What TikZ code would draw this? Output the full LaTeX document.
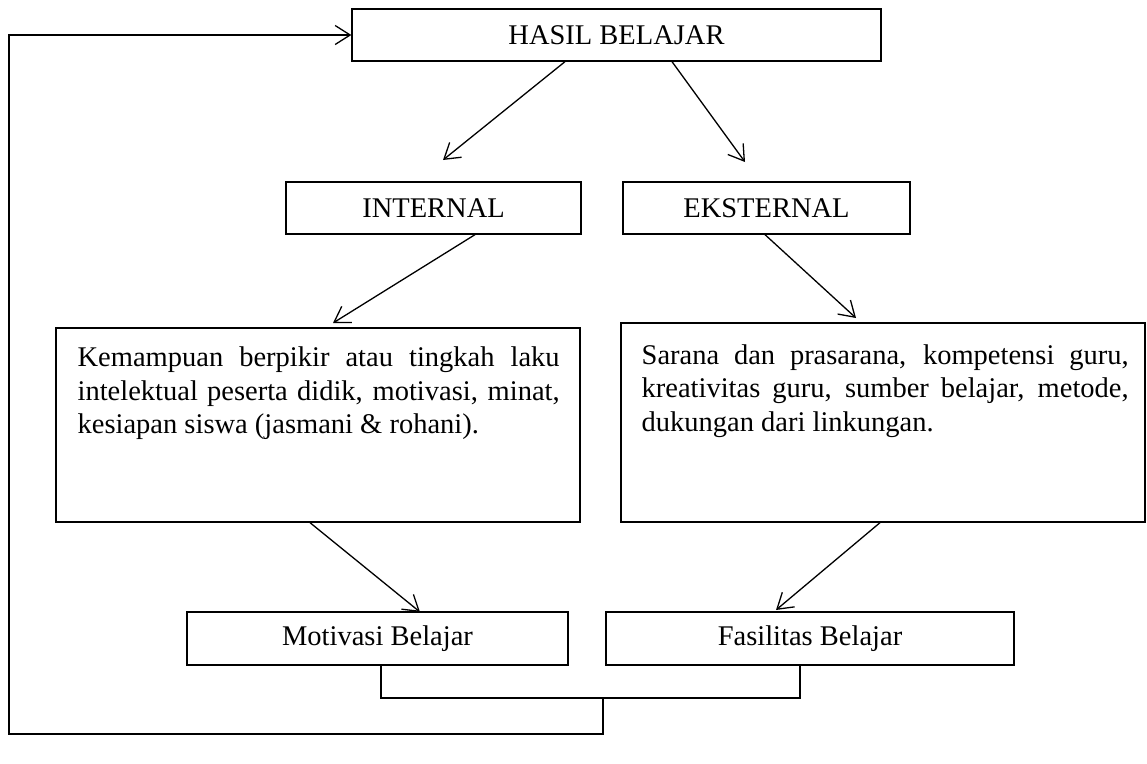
\documentclass[tikz,border=0pt]{standalone}
\usepackage{fontspec}
\setmainfont{Liberation Serif}
\usetikzlibrary{arrows.meta}
\begin{document}
\begin{tikzpicture}[x=1pt,y=-1pt,
  line width=1.3pt,
  every node/.style={font=\fontsize{28.5}{33.5}\selectfont},
  box/.style={draw,line width=1.3pt,inner sep=0pt,minimum width=#1,minimum height=52pt},
  bigbox/.style={draw,line width=1.3pt,inner sep=0pt},
  para/.style={inner sep=0pt,anchor=north west,text width=#1,align=justify},
  arr/.style={-{Straight Barb[length=15pt,width=19pt]},line join=miter}]
\useasboundingbox (0,0) rectangle (1147,763);

\node[box=529pt] (hasil) at (616.5,35) {HASIL BELAJAR};
\node[box=295pt] (internal) at (433.5,208) {INTERNAL};
\node[box=287pt] (eksternal) at (766.5,208) {EKSTERNAL};
\node[bigbox,minimum width=524pt,minimum height=194pt] (kiri) at (318,425) {};
\node[bigbox,minimum width=524pt,minimum height=199pt] (kanan) at (883,422.5) {};
\node[para=482pt] (tkiri) at (77,346.5) {\hyphenpenalty=10000 Kemampuan berpikir atau tingkah laku\linebreak intelektual peserta didik, motivasi, minat,\linebreak kesiapan siswa (jasmani \& rohani).};
\node[para=487pt] (tkanan) at (641,344) {\hyphenpenalty=10000 Sarana dan prasarana, kompetensi guru,\linebreak kreativitas guru, sumber belajar, metode,\linebreak dukungan dari linkungan.};
\node[box=381pt,minimum height=53pt] (motivasi) at (377.5,638.5) {Motivasi Belajar};
\node[box=408pt,minimum height=53pt] (fasilitas) at (810,638.5) {Fasilitas Belajar};

\coordinate (e1) at (443,160);
\coordinate (e2) at (745,162);
\coordinate (e3) at (333,323);
\coordinate (e4) at (856,318);
\coordinate (e5) at (420,612);
\coordinate (e6) at (776,610);

\draw[arr] ([xshift=-51.5pt]hasil.south) -- (e1);
\draw[arr] ([xshift=55.5pt]hasil.south) -- (e2);
\draw[arr] ([xshift=41.5pt]internal.south) -- (e3);
\draw[arr] ([xshift=-1.5pt]eksternal.south) -- (e4);
\draw[arr] ([xshift=-8pt]kiri.south) -- (e5);
\draw[arr] ([xshift=-3pt]kanan.south) -- (e6);

\coordinate (j) at (603,698);
\coordinate (c1) at (9,734);
\draw ([xshift=3.5pt]motivasi.south) |- (j) -| ([xshift=-10pt]fasilitas.south);
\draw[arr] (j) |- (c1) |- (hasil.west);
\end{tikzpicture}
\end{document}
